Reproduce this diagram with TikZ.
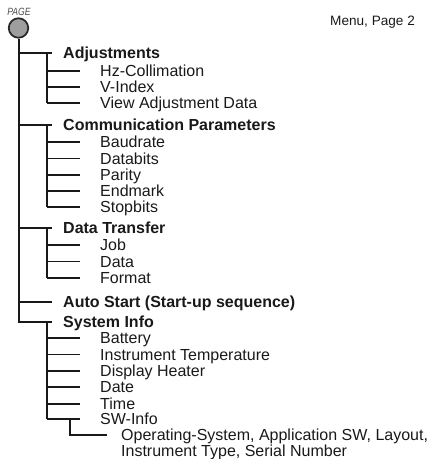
\documentclass[tikz,border=0pt]{standalone}
\usepackage{fontspec}
\setmainfont{Liberation Sans}
\begin{document}
\begin{tikzpicture}[x=1pt,y=-1pt,
  txt/.style={inner sep=0pt,anchor=west,text height=11.5pt,text depth=0pt,font=\fontsize{16}{16}\selectfont,text=black!90},
  hdr/.style={txt,font=\fontsize{16}{16}\selectfont\bfseries},
  vline/.style={line width=2pt,black!90},
  hline/.style={line width=1.5pt,black!90},
]
\useasboundingbox (0,0) rectangle (433,459);
% root
\node[circle,draw=black!85,line width=1.7pt,fill=black!38,minimum size=19.5pt,inner sep=0pt] (root) at (18.5,28) {};
\node[font=\fontsize{10.5}{10.5}\selectfont\itshape,text=black!70,inner sep=0pt] (pg) at (19,11.5) {\scalebox{0.82}[1]{PAGE}};
\node[anchor=base west,inner sep=0pt,font=\fontsize{13.6}{14}\selectfont,text=black!90] (menu) at (330,25) {Menu, Page 2};
% headers
\node[hdr] (adj) at (63,53) {Adjustments};
\node[hdr] (com) at (63,125) {Communication Parameters};
\node[hdr] (dt) at (63,228) {Data Transfer};
\node[hdr] (as) at (63,302) {Auto Start (Start-up sequence)};
\node[hdr] (si) at (63,322) {System Info};
% items
\node[txt] (a1) at (100,71) {Hz-Collimation};
\node[txt] (a2) at (100,87) {V-Index};
\node[txt] (a3) at (100,103) {View Adjustment Data};
\node[txt] (c1) at (100,142) {Baudrate};
\node[txt] (c2) at (100,158.5) {Databits};
\node[txt] (c3) at (100,175) {Parity};
\node[txt] (c4) at (100,191) {Endmark};
\node[txt] (c5) at (100,207) {Stopbits};
\node[txt] (d1) at (100,245) {Job};
\node[txt] (d2) at (100,261.5) {Data};
\node[txt] (d3) at (100,278) {Format};
\node[txt] (s1) at (100,338) {Battery};
\node[txt] (s2) at (100,354.5) {Instrument Temperature};
\node[txt] (s3) at (100,371) {Display Heater};
\node[txt] (s4) at (100,387) {Date};
\node[txt] (s5) at (100,404) {Time};
\node[txt] (s6) at (100,419) {SW-Info};
\node[txt] (sw1) at (121,435) {Operating-System, Application SW, Layout,};
\node[txt] (sw2) at (121,451) {Instrument Type, Serial Number};
% main trunk
\draw[vline] (root.south) -- (root.south |- si.west);
\draw[hline] ([xshift=-0.9pt]root.south |- si.west) -- ([xshift=-11pt]si.west);
\foreach \h in {adj,com,dt,as}
  \draw[hline] (root.south |- \h.west) -- ([xshift=-11pt]\h.west);
% sub verticals
\foreach \h/\l in {adj/a3,com/c5,dt/d3,si/s6}
  \draw[vline] ([xshift=-16pt]\h.west) -- ([xshift=-16pt]\h.west |- \l.west);
% sub horizontals
\foreach \i in {a1,a2,a3,c1,c2,c3,c4,c5,d1,d2,d3,s1,s2,s3,s4,s5,s6}
  \draw[hline] ([xshift=-53pt]\i.west) -- ([xshift=-20pt]\i.west);
% SW-Info branch
\coordinate (swc) at ([xshift=-30pt]s6.west);
\draw[vline] (swc) -- (swc |- sw1.west);
\draw[hline] ([xshift=-0.9pt]swc |- sw1.west) -- ([xshift=-14pt]sw1.west);
\end{tikzpicture}
\end{document}
